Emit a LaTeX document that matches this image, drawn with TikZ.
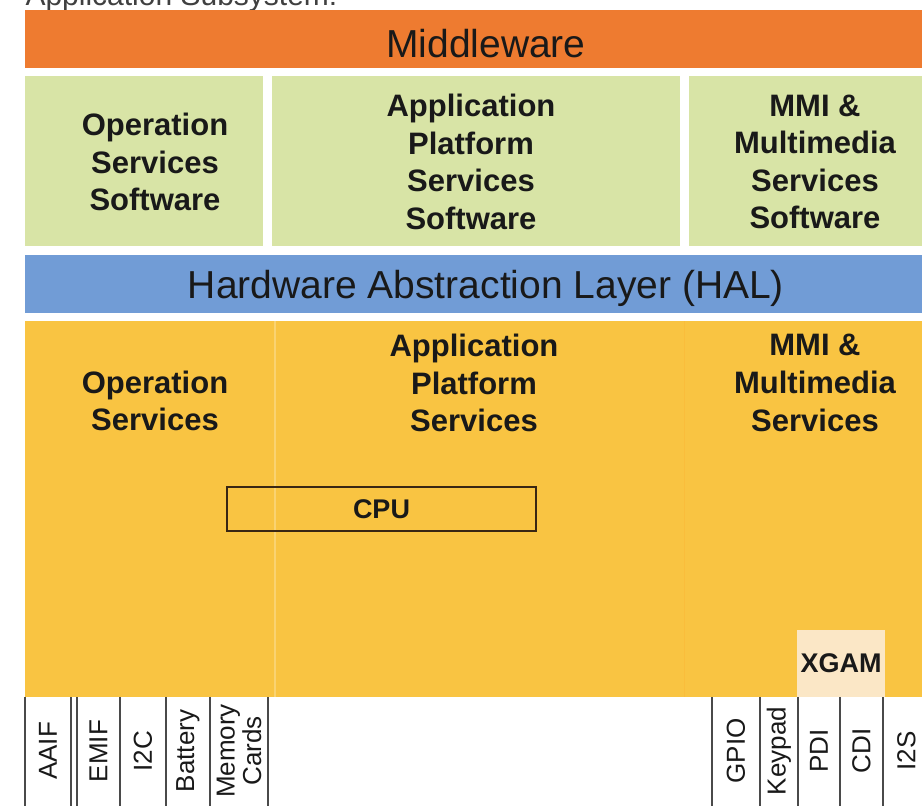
\documentclass[tikz,border=0pt]{standalone}
\usepackage{fontspec}
\setmainfont{Liberation Sans}
\usetikzlibrary{positioning}
\definecolor{mwOrange}{HTML}{EE7B30}
\definecolor{swGreen}{HTML}{D8E4A6}
\definecolor{halBlue}{HTML}{719CD6}
\definecolor{hwYellow}{HTML}{F9C442}
\definecolor{xgamFill}{HTML}{FBE7C6}
\definecolor{stripLine}{HTML}{4A4A4A}
\newcommand{\leftStrips}{25/71/AAIF, 77/120/EMIF, 120/166/I2C, 166/210/Battery, 210/268/{Memory\\Cards}}
\newcommand{\rightStrips}{712/760/GPIO, 760/798/Keypad, 798/840/PDI, 840/883/CDI, 883/930/I2S}

\begin{document}
\begin{tikzpicture}[x=1pt, y=-1pt,
    bandtxt/.style={font=\fontsize{39}{44}\selectfont, text=black!90},
    boldtxt/.style={font=\fontsize{31}{37.6}\selectfont\bfseries, align=center, text=black!90, inner sep=0pt},
    smallbold/.style={font=\fontsize{27}{30}\selectfont\bfseries, text=black!90},
    ifline/.style={stripLine, line width=1.6pt},
    iflabel/.style={rotate=90, font=\fontsize{26}{26.5}\selectfont, align=center, text=black!90, inner sep=0pt}]
  \useasboundingbox (0,0) rectangle (922,806);
  \fill[white] (0,0) rectangle (922,806);
  \node[anchor=base west, font=\fontsize{30}{34}\selectfont, text=black!75] (title) at (22,5) {Application Subsystem:};
  % middleware and HAL bands
  \fill[mwOrange] (25,10) rectangle (930,68);
  \node[bandtxt] (mw) at (486,44) {Middleware};
  \fill[swGreen] (25,76) rectangle (263,246);
  \fill[swGreen] (272,76) rectangle (680,246);
  \fill[swGreen] (689,76) rectangle (930,246);
  \node[boldtxt] (opsw) at (155,162) {Operation\\Services\\Software};
  \node[boldtxt] (apsw) at (471,162) {Application\\Platform\\Services\\Software};
  \node[boldtxt] (mmsw) at (815,162) {MMI \&\\Multimedia\\Services\\Software};
  \fill[halBlue] (25,255) rectangle (930,313);
  \node[bandtxt] (hal) at (486,288) {Hardware Abstraction Layer (HAL)};
  % hardware
  \fill[hwYellow] (25,321) rectangle (930,697);
  \draw[hwYellow!75!white, line width=1.5pt] (275,321) -- (275,697);
  \draw[hwYellow!90!orange, line width=1pt] (684,321) -- (684,697);
  \node[boldtxt] (ophw) at (155,401) {Operation\\Services};
  \node[boldtxt] (aphw) at (474,383) {Application\\Platform\\Services};
  \node[boldtxt] (mmhw) at (815,383) {MMI \&\\Multimedia\\Services};
  \node[smallbold, draw=black!70!brown, line width=1.3pt, minimum width=309, minimum height=44] (cpu) at (381.5,509) {CPU};
  \node[smallbold, fill=xgamFill, minimum width=87, minimum height=67, anchor=south west] (xgam) at (797,697) {XGAM};
  % interfaces
  \foreach \xa/\xb/\txt in \leftStrips {
    \draw[ifline] (\xa,697) -- (\xa,806);
    \draw[ifline] (\xb,697) -- (\xb,806);
    \node[iflabel] (if\xa) at ({(\xa+\xb)/2},751) {\txt};
  }
  \foreach \xa/\xb/\txt in \rightStrips {
    \draw[ifline] (\xa,697) -- (\xa,806);
    \draw[ifline] (\xb,697) -- (\xb,806);
    \node[iflabel] (if\xa) at ({(\xa+\xb)/2},751) {\txt};
  }
\end{tikzpicture}
\end{document}
